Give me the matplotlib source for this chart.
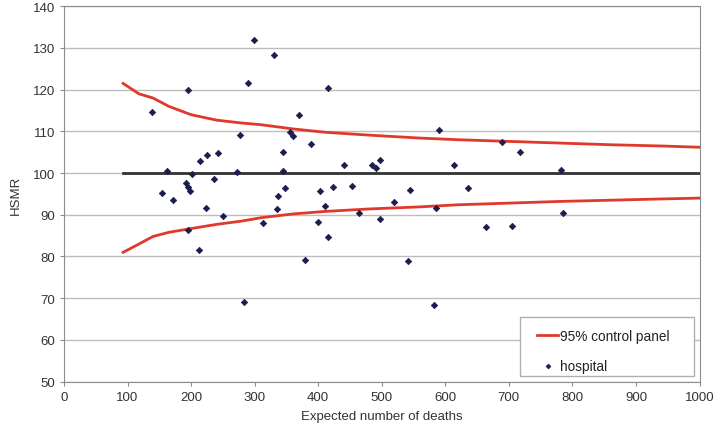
import matplotlib.pyplot as plt
from matplotlib.patches import Rectangle

plt.rcParams['font.family'] = ['Liberation Sans', 'DejaVu Sans']

# hospitals: expected deaths vs HSMR
expected = [139, 195, 299.5, 331, 289, 277, 161.6, 214, 224.5, 243, 202, 272, 236, 192,
            195.6, 198.7, 154, 171, 223, 250, 312.7, 337, 335.6, 195.6, 212.4, 282.8, 415,
            370, 355.6, 360.8, 388, 344, 344.6, 441, 484, 490.5, 497, 589.6, 613, 347.8,
            402.8, 423, 452.7, 410, 464, 400, 497, 519, 544, 585, 379, 416, 542, 581.7,
            689, 717.5, 781.6, 635, 785.7, 663.6, 704.5]
hsmr = [114.7, 120.0, 131.9, 128.2, 121.5, 109.2, 100.6, 102.8, 104.3, 104.7, 99.9, 100.3,
        98.5, 97.6, 96.7, 95.8, 95.2, 93.5, 91.7, 89.6, 88.0, 94.6, 91.3, 86.4, 81.6, 69.0,
        120.3, 113.9, 109.9, 109.0, 107.0, 105.1, 100.6, 102.0, 102.0, 101.3, 103.2, 110.4,
        101.9, 96.5, 95.6, 96.6, 96.8, 92.0, 90.5, 88.3, 88.9, 93.0, 95.9, 91.6, 79.2, 84.7,
        79.0, 68.4, 107.5, 105.0, 100.7, 96.5, 90.4, 87.1, 87.2]

# 95% control limits
limit_x = [93, 118, 140, 165, 200, 240, 280, 310, 360, 410, 480, 560, 620, 700, 780, 860, 940, 1000]
upper = [121.5, 119.0, 118.0, 116.0, 114.0, 112.7, 112.0, 111.6, 110.6, 109.8, 109.1, 108.4,
         108.0, 107.6, 107.2, 106.8, 106.5, 106.2]
lower = [81.0, 83.0, 84.8, 85.8, 86.7, 87.7, 88.5, 89.3, 90.2, 90.8, 91.4, 91.9,
         92.4, 92.8, 93.2, 93.5, 93.8, 94.0]
target = 100

fig = plt.figure(figsize=(7.17, 4.31), dpi=100)
ax = fig.add_axes([0.0893, 0.1123, 0.8863, 0.8708])

ax.plot([limit_x[0], limit_x[-1]], [target, target], color='#333333', linewidth=2, zorder=2)
ax.plot(limit_x, upper, color='#e0392b', linewidth=2, label='95% control panel', zorder=3)
ax.plot(limit_x, lower, color='#e0392b', linewidth=2, zorder=3)
ax.plot(expected, hsmr, linestyle='none', marker='D', markersize=3.3, markeredgewidth=0.5,
        color='#1c1c50', label='hospital', zorder=4)

ax.set_xlim(0, 1000)
ax.set_ylim(50, 140)
ax.set_xticks(range(0, 1001, 100))
ax.set_yticks(range(50, 141, 10))
ax.yaxis.grid(True, color='#bdbdbd', linewidth=1)
ax.set_axisbelow(True)
for s in ax.spines.values():
    s.set_color('#8c8c8c')
ax.tick_params(colors='#8c8c8c', labelcolor='#333333', labelsize=9.5, length=3)
ax.set_xlabel('Expected number of deaths', fontsize=9.5, color='#333333', labelpad=5)
ax.set_ylabel('HSMR', fontsize=9.5, color='#333333', labelpad=8)

# legend frame drawn separately (wider horizontal padding than vertical)
ax.add_patch(Rectangle((0.7176, 0.0152), 0.2737, 0.1576, transform=ax.transAxes,
                       facecolor='white', edgecolor='#b0b0b0', linewidth=1, zorder=5))
leg = ax.legend(loc='upper left', bbox_to_anchor=(0.7443, 0.14), borderaxespad=0,
                borderpad=0, fontsize=9.8, frameon=False,
                handlelength=1.55, handletextpad=0.15, labelspacing=1.2, markerscale=0.75)
leg.set_zorder(6)
for t in leg.get_texts():
    t.set_color('#222222')

fig.savefig('out.png', dpi=100)
